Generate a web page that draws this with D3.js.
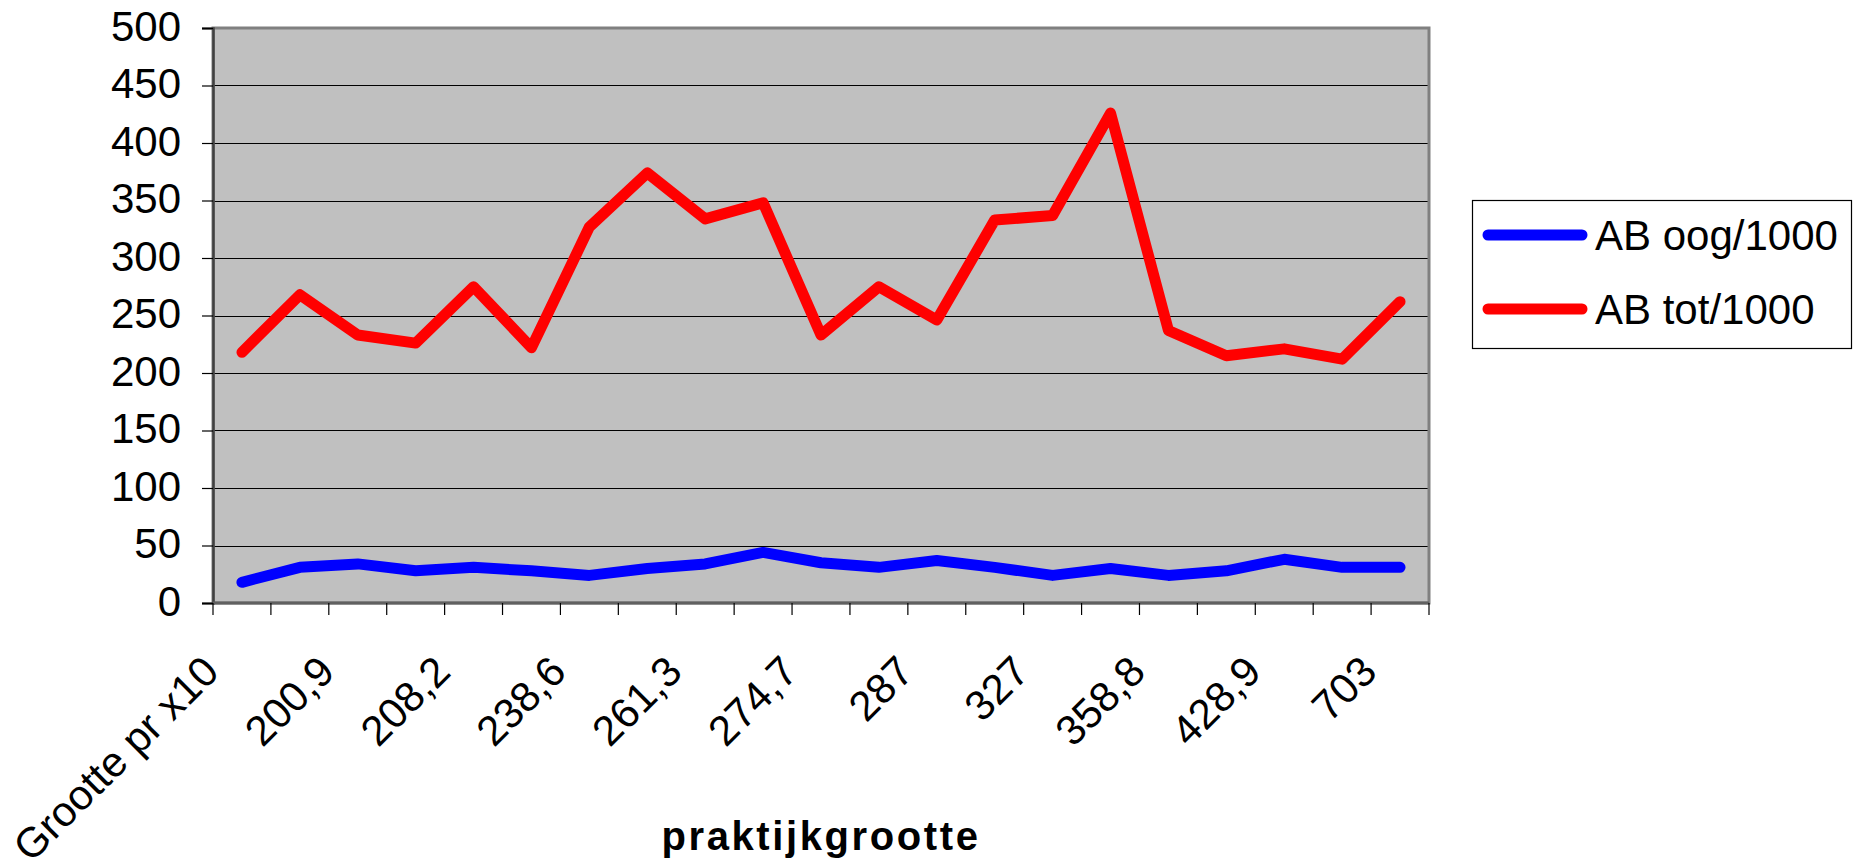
<!DOCTYPE html>
<html>
<head>
<meta charset="utf-8">
<script src="https://cdn.jsdelivr.net/npm/d3@7"></script>
<style>
  html, body { margin: 0; padding: 0; background: #fff; }
  svg { display: block; }
  text { font-family: "Liberation Sans", Arial, sans-serif; fill: #000; }
</style>
</head>
<body>
<svg id="chart" width="1857" height="864"></svg>
<script>
// Category labels (Excel only printed every other label; the skipped ones are blank here)
const categories = ["Grootte pr x10", "", "200,9", "", "208,2", "", "238,6", "", "261,3", "", "274,7", "", "287", "", "327", "", "358,8", "", "428,9", "", "703"];
const seriesNames = ["AB oog/1000", "AB tot/1000"];
const abOog = [18, 31, 34, 28, 31, 28, 24, 30, 34, 44, 35, 31, 37, 31, 24, 30, 24, 28, 38, 31, 31];
const abTot = [218, 268, 233, 226, 275, 222, 327, 374, 334, 348, 233, 275, 246, 333, 337, 426, 237, 215, 221, 212, 262];
const yTicks = [0, 50, 100, 150, 200, 250, 300, 350, 400, 450, 500];
const xTitle = "praktijkgrootte";
const colors = ["#0000FF", "#FF0000"];

const svg = d3.select("#chart");
const plot = { left: 213, right: 1429, top: 28, bottom: 603 };

const x = d3.scaleBand().domain(d3.range(categories.length)).range([plot.left, plot.right]).paddingInner(0).paddingOuter(0);
const y = d3.scaleLinear().domain([0, 500]).range([plot.bottom, plot.top]);
const cx = i => x(i) + x.bandwidth() / 2;

// plot background
svg.append("rect")
  .attr("x", plot.left).attr("y", plot.top)
  .attr("width", plot.right - plot.left).attr("height", plot.bottom - plot.top)
  .attr("fill", "#C0C0C0");

// gridlines
svg.append("g").selectAll("line").data(yTicks.filter(d => d > 0 && d < 500)).join("line")
  .attr("x1", plot.left).attr("x2", plot.right)
  .attr("y1", d => Math.round(y(d)) + 0.5).attr("y2", d => Math.round(y(d)) + 0.5)
  .attr("stroke", "#000").attr("stroke-width", 1.2);

// plot border
svg.append("rect")
  .attr("x", plot.left).attr("y", plot.top)
  .attr("width", plot.right - plot.left).attr("height", plot.bottom - plot.top)
  .attr("fill", "none").attr("stroke", "#808080").attr("stroke-width", 3);

// Y axis
const yAxis = d3.axisLeft(y).tickValues(yTicks).tickSize(11).tickPadding(21).tickFormat(d3.format("d"));
const gy = svg.append("g").attr("transform", `translate(${plot.left},0)`).call(yAxis);
gy.select(".domain").attr("stroke", "#404040").attr("stroke-width", 2.5);
gy.selectAll(".tick line").attr("stroke", "#000").attr("stroke-width", 1.2);
gy.selectAll(".tick text")
  .attr("font-size", 42).attr("dy", null).attr("y", 12)
  .style("font-family", '"Liberation Sans", Arial, sans-serif');

// X axis: ticks at category boundaries
const boundaries = d3.range(categories.length + 1).map(i => i === categories.length ? plot.right : x(i));
const gx = svg.append("g");
gx.append("line")
  .attr("x1", plot.left).attr("x2", plot.right)
  .attr("y1", plot.bottom).attr("y2", plot.bottom)
  .attr("stroke", "#606060").attr("stroke-width", 3);
gx.selectAll("line.tk").data(boundaries).join("line").attr("class", "tk")
  .attr("x1", d => d).attr("x2", d => d)
  .attr("y1", plot.bottom).attr("y2", plot.bottom + 12)
  .attr("stroke", "#000").attr("stroke-width", 1.2);

// X labels (rotated)
svg.append("g").selectAll("text").data(categories.map((c, i) => ({ c, i })).filter(d => d.c !== "")).join("text")
  .attr("transform", d => `translate(${cx(d.i) - 21},${674}) rotate(-45)`)
  .attr("text-anchor", "end")
  .attr("font-size", 42)
  .text(d => d.c);

// X title
svg.append("text")
  .attr("x", (plot.left + plot.right) / 2).attr("y", 850)
  .attr("text-anchor", "middle")
  .attr("font-size", 40).attr("font-weight", "bold")
  .attr("letter-spacing", "2.6px")
  .text(xTitle);

// Lines
const line = d3.line().x((d, i) => cx(i)).y(d => y(d));
[abOog, abTot].forEach((s, k) => {
  svg.append("path").datum(s)
    .attr("d", line)
    .attr("fill", "none")
    .attr("stroke", colors[k])
    .attr("stroke-width", 11)
    .attr("stroke-linejoin", "round")
    .attr("stroke-linecap", "round");
});

// Legend
const lg = svg.append("g");
lg.append("rect").attr("x", 1472.5).attr("y", 200.5).attr("width", 379).attr("height", 148)
  .attr("fill", "#fff").attr("stroke", "#000").attr("stroke-width", 1.2);
seriesNames.forEach((n, k) => {
  const ly = 235 + k * 74;
  lg.append("line").attr("x1", 1488).attr("x2", 1582).attr("y1", ly).attr("y2", ly)
    .attr("stroke", colors[k]).attr("stroke-width", 11).attr("stroke-linecap", "round");
  lg.append("text").attr("x", 1595).attr("y", ly + 15).attr("font-size", 42).text(n);
});
</script>
</body>
</html>
